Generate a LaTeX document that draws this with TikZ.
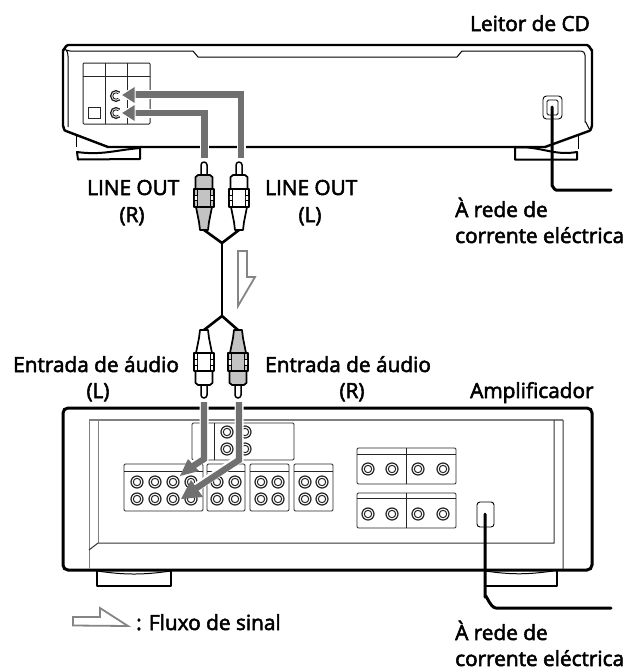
\documentclass[tikz,border=0pt]{standalone}
\usepackage{fontspec}
\newfontfamily\labfont{Open Sans}[FakeBold=2.6]
\definecolor{sig}{RGB}{112,112,112}
\definecolor{plg}{RGB}{195,195,195}
\tikzset{
 heavy/.style={line width=3pt,line join=round,line cap=round,black},
 med/.style={line width=1.7pt,line join=round,black},
 greyline/.style={line width=1.4pt,color=gray},
 panel/.style={line width=0.9pt,rounded corners=1.2pt,color=black!85},
 sigline/.style={line width=6.3pt,color=sig},
 halo/.style={line width=9pt,color=white},
 label/.style={font=\fontsize{20.8}{25}\labfont,inner sep=0pt,anchor=base west,black},
 clabel/.style={label,anchor=base},
 hollow/.style={line width=1.8pt,color=sig!85,fill=white,line join=miter},
}
\newcommand{\jack}[2]{\draw[line width=1.2pt,black!85,fill=white] (#1,#2) circle (6);
 \draw[line width=1pt,black!85] (#1,#2) circle (3.7);}
\newcommand{\cjack}[2]{\draw[line width=1.3pt,black!85] ([shift={(45:5.4)}]#1,#2) arc (45:315:5.4);
 \draw[line width=0.9pt,black!85] ([shift={(45:3.2)}]#1,#2) arc (45:315:3.2);}
% plug: #1 x, #2 tip y, #3 direction (1 = goes down from the tip, -1 = goes up), #4 fill
\newcommand{\plug}[4]{%
 \begin{scope}[shift={(#1,#2)},yscale=#3]
  \draw[med,fill=white,line width=1.5pt] (-3,14) -- (-3,3) arc (180:360:3) -- (3,14);
  \draw[med,fill=#4] (-8.5,27) -- (-8.5,15) to[out=-90,in=180] (-6,13) -- (6,13) to[out=0,in=-90] (8.5,15) -- (8.5,27) -- cycle;
  \draw[med,fill=#4] (-4,68) to[out=90,in=-80] (-5,60) -- (-8,45) -- (-8,42) -- (8,42) -- (8,45) -- (5,60) to[out=-100,in=90] (4,68) -- cycle;
  \draw[med,fill=#4] (-10,27) -- (10,27) -- (10,45) -- (-10,45) -- cycle;
  \draw[line width=1pt] (-6.5,27) -- (-6.5,45) (6.5,27) -- (6.5,45);
  \fill[white] (-9.2,33.5) rectangle (-6.9,38) (6.9,33.5) rectangle (9.2,38);
  \draw[line width=1pt] (-10,33) -- (-6.5,33) (-10,38.5) -- (-6.5,38.5) (10,33) -- (6.5,33) (10,38.5) -- (6.5,38.5);
 \end{scope}}
\begin{document}
\begin{tikzpicture}[x=1pt,y=-1pt]
\useasboundingbox (0,0) rectangle (629,670);
% ---- CD player feet
\draw[med,line width=2pt] (77,152) to[out=-8,in=185] (140,148) -- (140,159) -- (78,159.5) -- cycle;
\draw[med,line width=2pt] (515,147.5) -- (515,159.5) -- (577,159.5) -- (577,152) to[out=190,in=5] (515,147.5);
\draw[med] (76.5,135) -- (76.5,147);
\draw[med] (578.5,136) -- (578.5,149);
% ---- CD player body
\draw[line width=2.4pt,line join=round] (108,147) -- (66,131) to[out=-150,in=90] (63,126) -- (63,50) to[out=-90,in=180] (68,45) -- (587,45) to[out=0,in=-90] (592,50) -- (592,126) to[out=90,in=-15] (589,131) -- (545,147) -- cycle;
\draw[line width=1pt] (68,127) -- (68,56) to[out=-90,in=-30] (66,50) to[out=150,in=180] (70,51) -- (193,51) -- (198,57) -- (457,57) -- (462,51) -- (581,51) to[out=0,in=90] (585,55) -- (585,122) to[out=90,in=-90] (590,129);
\draw[line width=1pt,rounded corners=1pt,black!85] (83,63) rectangle (150,124);
\draw[line width=0.9pt,black!85] (83,76) -- (150,76) (105,63) -- (105,124) (127,63) -- (127,124);
\draw[line width=0.9pt,black!85] (88,107.5) rectangle (100,118.5);
\fill[white] (106,88) rectangle (126,120);
\cjack{116}{96}\cjack{116}{113}
% ---- CD player power
\draw[line width=0.9pt,rounded corners=3.5pt] (543,96) rectangle (562,119);
\draw[line width=0.9pt,rounded corners=1.5pt] (547,100) rectangle (558,115);
\coordinate (cdp) at (552,107); \coordinate (cdpe) at (611,190);
\draw[heavy] (cdp) -- (552,186) to[out=90,in=180] (556,190) -- (cdpe);
% ---- top signal lines
\coordinate (ra) at (204.5,158); \coordinate (la) at (241,158);
\coordinate (rt) at (121,113); \coordinate (lt) at (121,95);
\draw[halo] (ra) -- (204.5,113) -- (135,113);
\draw[halo] (la) -- (241,94.5) -- (135,94.5);
\draw[sigline] (ra) -- (204.5,113) -- (133,113);
\draw[sigline] (la) -- (241,94.5) -- (133,94.5);
\fill[sig,draw=white,line width=1pt] (rt) -- (135,104) -- (135,122) -- cycle;
\fill[sig,draw=white,line width=1pt] (lt) -- (135,86) -- (135,104) -- cycle;
% ---- wires and plugs
\coordinate (fa) at (222,243); \coordinate (fb) at (222,316);
\draw[line width=2.6pt,line join=round] (204,230) -- (fa) -- (239,230);
\draw[line width=2.6pt] (fa) -- (fb);
\draw[line width=2.6pt,line join=round] (204,330) -- (fb) -- (238,330);
\plug{204}{162}{1}{plg}
\plug{239}{162}{1}{white}
\plug{204}{398}{-1}{white}
\plug{238}{398}{-1}{plg}
\draw[hollow] (238,251) -- (247,251) -- (247,277) -- (255,277) -- (238,306) -- cycle;
% ---- amplifier feet
\draw[med,line width=2.4pt] (97,570) -- (97,586) -- (171,586) -- (171,570);
\draw[line width=1pt] (97,571) to[out=-8,in=188] (171,571);
\draw[med,line width=2.4pt] (485,586) -- (557,586) -- (557,570);
\draw[line width=1pt] (485,571) to[out=-8,in=188] (553,571);
% ---- amplifier body
\draw[line width=3pt,rounded corners=5pt] (63,408) rectangle (592,570);
\draw[greyline] (89,420) -- (563,420);
\draw[greyline,line width=1pt] (89,420) -- (89,569) (98,420) -- (98,543);
\draw[line width=1pt,black!80] (563,420) -- (563,569) (554,420) -- (554,543) -- (98,543) -- (89,550);
% ---- amplifier panels
\foreach \a/\b in {124/203,207/245,250/289,294/333}{
 \draw[panel] (\a,464) rectangle (\b,511);
 \draw[line width=0.8pt,black!85] (\a,471) -- (\b,471);}
\draw[panel] (192,423) rectangle (294,460);
\draw[line width=0.9pt,black!85] (214,423) -- (214,460);
\foreach \x in {137,155,173,191,217,235,261,278,305,322}{\jack{\x}{482}\jack{\x}{499}}
\foreach \x in {227,245}{\jack{\x}{432}\jack{\x}{449}}
\draw[panel] (357,448) rectangle (456,484);
\draw[line width=0.8pt,black!85] (357,454) -- (456,454) (406,448) -- (406,484);
\draw[panel] (357,493) rectangle (456,528);
\draw[line width=0.8pt,black!85] (357,498) -- (456,498) (406,493) -- (406,528);
\foreach \x in {368,392,418,443}{\jack{\x}{469}\jack{\x}{514}}
% ---- amplifier power
\draw[line width=0.9pt,rounded corners=3pt] (477,502) rectangle (494,527);
\coordinate (ap) at (485,514); \coordinate (ape) at (611,608);
\draw[heavy] (ap) -- (485,597) to[out=90,in=180] (496,608) -- (ape);
% ---- amplifier signal lines
\coordinate (r2) at (239,402); \coordinate (l2) at (204,402);
\coordinate (t1) at (180,476); \coordinate (t2) at (181,499);
\draw[halo] (204,405) -- (204,458) -- (190,467);
\draw[halo] (239,405) -- (239,459) -- (192,490);
\draw[sigline,line cap=butt] (l2) -- (204,459) -- (190,468);
\fill[sig] (t1) -- (199,471) -- (188,459) -- cycle;
\draw[sigline,line cap=butt] (r2) -- (239,460) -- (192,491);
\fill[sig] (t2) -- (203,497) -- (191,480) -- cycle;
% ---- signal flow legend
\draw[hollow] (128,626) -- (73,625.5) -- (73,617) -- (100,617) -- (100,608) -- cycle;
% ---- labels
\node[label] (cdname) at (470,31) {Leitor de CD};
\node[label] (lor) at (87,195) {LINE OUT};
\node[clabel] (rr) at (132,222) {(R)};
\node[label] (lol) at (265,195) {LINE OUT};
\node[clabel] (ll) at (310,222) {(L)};
\node[label] (p1a) at (455,217) {À rede de};
\node[label] (p1b) at (455,243) {corrente eléctrica};
\node[label] (inl) at (13,372) {Entrada de áudio};
\node[clabel] (il) at (98,398) {(L)};
\node[label] (inr) at (265,372) {Entrada de áudio};
\node[clabel] (ir) at (352,398) {(R)};
\node[label] (ampname) at (470,398) {Amplificador};
\node[label] (flow) at (136,630) {: Fluxo de sinal};
\node[label] (p2a) at (455,640) {À rede de};
\node[label] (p2b) at (455,666) {corrente eléctrica};
\end{tikzpicture}
\end{document}
